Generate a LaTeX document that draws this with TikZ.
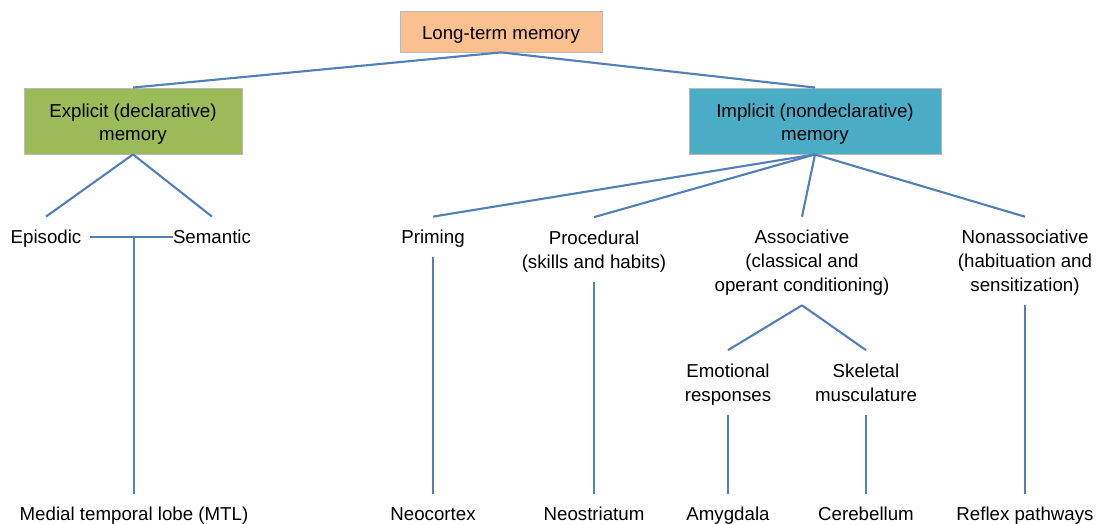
\documentclass[tikz,border=0pt]{standalone}
\usepackage{fontspec}
\setmainfont{Liberation Sans}
\definecolor{ltmorange}{RGB}{250,192,144}
\definecolor{explgreen}{RGB}{155,187,89}
\definecolor{implblue}{RGB}{75,172,198}
\definecolor{linkblue}{RGB}{82,127,184}
\usetikzlibrary{positioning, calc}
% centred lines of text, dropped a little below the node centre
\newcommand{\lbl}[2][1.4pt]{\raisebox{-#1}[\height][\depth]{\begin{tabular}{c}#2\end{tabular}}}

\begin{document}
\begin{tikzpicture}[x=0.025cm,y=-0.025cm,
	txt/.style={font=\fontsize{13.3}{17}\selectfont,inner sep=0pt,outer ysep=6pt},
	memobox/.style={font=\fontsize{13.3}{16.5}\selectfont,inner sep=0pt,draw=gray!55,line width=0.6pt},
	link/.style={draw=linkblue,line width=1.5pt}]
	\useasboundingbox (0,0) rectangle (1104,524);
	
	\node[memobox,fill=ltmorange,minimum width=5.05cm,minimum height=1.025cm] (ltm) at (501,31.5){\lbl[2.2pt]{Long-term memory}};
	
	\node[memobox,fill=explgreen,minimum width=5.45cm,minimum height=1.65cm] (expl) at (133,121){\lbl[2.4pt]{Explicit (declarative)\\memory}};
	\node[memobox,fill=implblue,minimum width=6.3cm,minimum height=1.65cm] (impl) at (815,121){\lbl[2.4pt]{Implicit (nondeclarative)\\memory}};
	
	\node[txt] (epis) at (46,237){\lbl{Episodic}};
	\node[txt] (sem) at (212,237){\lbl{Semantic}};
	\node[txt] (prim) at (433,237){\lbl{Priming}};
	\node[txt] (proc) at (594,249.5){\lbl{Procedural\\(skills and habits)}};
	\node[txt] (assoc) at (802,261){\lbl{Associative\\(classical and\\operant conditioning)}};
	\node[txt] (nonassoc) at (1025,261){\lbl{Nonassociative\\(habituation and\\sensitization)}};
	
	\node[txt] (emot) at (728,382.5){\lbl{Emotional\\responses}};
	\node[txt] (skel) at (866,382.5){\lbl{Skeletal\\musculature}};
	
	\node[txt] (mtl) at (134,514){\lbl{Medial temporal lobe (MTL)}};
	\node[txt] (neoc) at (433,514){\lbl{Neocortex}};
	\node[txt] (neostr) at (594,514){\lbl{Neostriatum}};
	\node[txt] (amyg) at (728,514){\lbl{Amygdala}};
	\node[txt] (cereb) at (866,514){\lbl{Cerebellum}};
	\node[txt] (reflex) at (1025,514){\lbl{Reflex pathways}};
	
	% tree connectors
	\draw[link] (ltm.south) -- (expl.north);
	\draw[link] (ltm.south) -- (impl.north);
	\draw[link] (expl.south) -- (epis.north);
	\draw[link] (expl.south) -- (sem.north);
	\draw[link] (epis.east) -- ([xshift=6pt]sem.west);
	\draw[link] (mtl.north) -- (mtl.north |- epis.east);
	\foreach \n in {prim,proc,assoc,nonassoc}
		\draw[link] (impl.south) -- (\n.north);
	\draw[link] (assoc.south) -- (emot.north);
	\draw[link] (assoc.south) -- (skel.north);
	
	% brain regions
	\foreach \a/\b in {prim/neoc,proc/neostr,emot/amyg,skel/cereb,nonassoc/reflex}
		\draw[link] (\a.south) -- (\b.north);
\end{tikzpicture}
\end{document}
